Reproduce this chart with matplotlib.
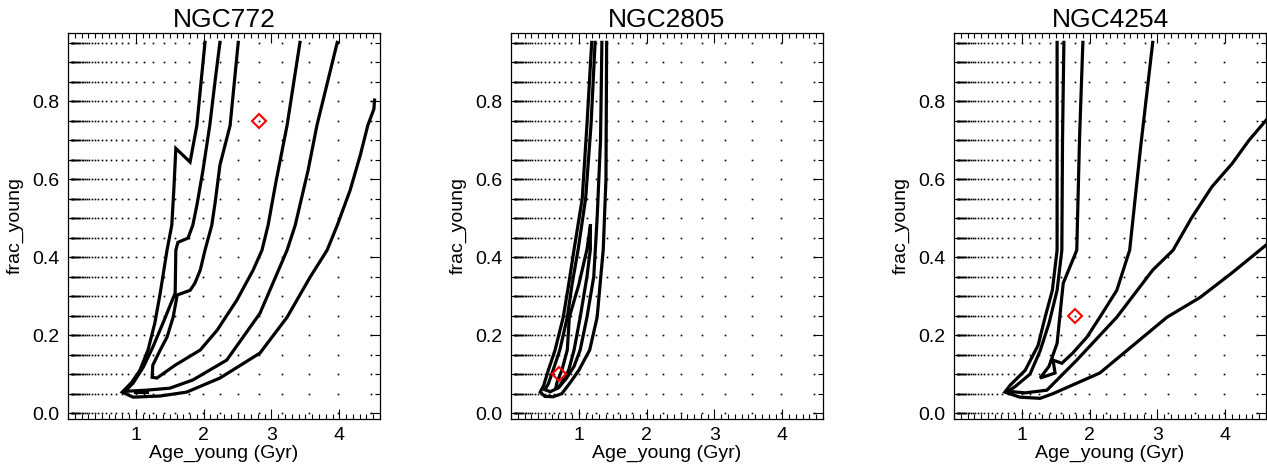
import numpy as np
import matplotlib.pyplot as plt
from matplotlib.ticker import MultipleLocator

plt.rcParams['font.family'] = ['Liberation Sans', 'DejaVu Sans']

# model grid (age in Gyr, log steps of 0.05 dex; young fraction in steps of 0.05)
grid_age = 10 ** np.arange(-1.3, 0.66, 0.05)
grid_frac = np.arange(0.0, 0.951, 0.05)

titles = ['NGC772', 'NGC2805', 'NGC4254']

# best fit (age_young, frac_young)
best_age = [2.82, 0.71, 1.78]
best_frac = [0.75, 0.10, 0.25]

# NGC772 contours
n772_outer_x = [2.02, 1.96, 1.90, 1.80, 1.59, 1.56, 1.53, 1.46, 1.36, 1.28, 1.18, 1.06, 0.94, 0.80,
                0.96, 1.36, 1.75, 2.24, 2.83, 3.23, 3.57, 3.82, 3.97, 4.16, 4.31, 4.42, 4.51, 4.52]
n772_outer_y = [0.951, 0.846, 0.738, 0.644, 0.679, 0.572, 0.482, 0.418, 0.308, 0.231, 0.162, 0.110, 0.079, 0.054,
                0.041, 0.044, 0.054, 0.090, 0.154, 0.246, 0.349, 0.418, 0.482, 0.572, 0.662, 0.738, 0.780, 0.803]
n772_mid_x = [2.24, 2.17, 2.09, 1.99, 1.90, 1.84, 1.77, 1.62, 1.59, 1.58, 1.40, 1.25, 1.11, 0.96, 0.84,
              1.16, 1.50, 1.84, 2.34, 2.83, 3.23, 3.35, 3.54, 3.67, 3.97]
n772_mid_y = [0.951, 0.854, 0.738, 0.623, 0.533, 0.482, 0.449, 0.438, 0.418, 0.308, 0.231, 0.169, 0.118, 0.077, 0.056,
              0.059, 0.064, 0.085, 0.136, 0.256, 0.418, 0.482, 0.623, 0.738, 0.951]
n772_in_x = [2.51, 2.39, 2.24, 2.17, 2.12, 2.02, 1.95, 1.87, 1.80, 1.61, 1.55, 1.46, 1.36, 1.25, 1.24, 1.31,
             1.58, 1.95, 2.20, 2.49, 2.73, 2.86, 2.95, 3.07, 3.23, 3.42]
n772_in_y = [0.951, 0.738, 0.636, 0.541, 0.482, 0.418, 0.367, 0.333, 0.315, 0.303, 0.246, 0.195, 0.162, 0.123, 0.092, 0.090,
             0.123, 0.162, 0.213, 0.290, 0.367, 0.418, 0.482, 0.597, 0.738, 0.951]
n772_blob_x = [0.99, 1.16]
n772_blob_y = [0.053, 0.053]

# NGC2805 contours
n2805_outer_x = [1.19, 1.12, 1.05, 0.93, 0.85, 0.77, 0.65, 0.55, 0.48, 0.43,
                 0.50, 0.62, 0.75, 0.88, 1.00, 1.16, 1.27, 1.36, 1.40, 1.41]
n2805_outer_y = [0.951, 0.74, 0.55, 0.42, 0.33, 0.246, 0.162, 0.11, 0.07, 0.054,
                 0.043, 0.042, 0.05, 0.08, 0.11, 0.162, 0.246, 0.42, 0.60, 0.951]
n2805_mid_x = [1.24, 1.18, 1.10, 0.99, 0.90, 0.83, 0.72, 0.62, 0.55, 0.50,
               0.58, 0.70, 0.82, 0.93, 1.02, 1.12, 1.22, 1.27, 1.32, 1.34]
n2805_mid_y = [0.951, 0.74, 0.55, 0.42, 0.33, 0.246, 0.162, 0.11, 0.075, 0.06,
               0.055, 0.065, 0.09, 0.12, 0.162, 0.246, 0.35, 0.50, 0.70, 0.951]
n2805_in_x = [1.17, 1.12, 1.00, 0.86, 0.83, 0.75, 0.68, 0.66, 0.72, 0.85, 0.93, 1.02, 1.12, 1.17, 1.17]
n2805_in_y = [0.48, 0.42, 0.33, 0.246, 0.162, 0.11, 0.08, 0.065, 0.07, 0.11, 0.162, 0.246, 0.35, 0.42, 0.48]

# NGC4254 contours
n4254_outer_x = [1.52, 1.52, 1.52, 1.45, 1.34, 1.24, 1.05, 0.83, 0.75,
                 0.97, 1.27, 1.46, 2.15, 3.14, 3.63, 4.10, 4.60]
n4254_outer_y = [0.951, 0.67, 0.418, 0.315, 0.244, 0.174, 0.110, 0.072, 0.054,
                 0.041, 0.038, 0.050, 0.103, 0.246, 0.297, 0.36, 0.431]
n4254_mid_x = [1.62, 1.60, 1.59, 1.52, 1.40, 1.27, 1.12, 0.90, 0.80,
               1.05, 1.37, 1.81, 2.40, 2.93, 3.23, 3.50, 3.80, 4.10, 4.35, 4.60]
n4254_mid_y = [0.951, 0.70, 0.418, 0.315, 0.230, 0.160, 0.100, 0.068, 0.056,
               0.052, 0.059, 0.136, 0.246, 0.367, 0.418, 0.50, 0.58, 0.64, 0.70, 0.751]
n4254_in_x = [1.90, 1.85, 1.81, 1.61, 1.52, 1.40, 1.27, 1.49, 1.46, 1.59,
              1.75, 1.96, 2.15, 2.40, 2.59, 2.75, 2.93]
n4254_in_y = [0.951, 0.70, 0.418, 0.333, 0.179, 0.120, 0.090, 0.103, 0.136, 0.128,
              0.154, 0.195, 0.246, 0.315, 0.418, 0.68, 0.951]

contours = [
    [(n772_outer_x, n772_outer_y), (n772_mid_x, n772_mid_y), (n772_in_x, n772_in_y), (n772_blob_x, n772_blob_y)],
    [(n2805_outer_x, n2805_outer_y), (n2805_mid_x, n2805_mid_y), (n2805_in_x, n2805_in_y)],
    [(n4254_outer_x, n4254_outer_y), (n4254_mid_x, n4254_mid_y), (n4254_in_x, n4254_in_y)],
]

fig = plt.figure(figsize=(12.67, 4.71), dpi=100)
lefts = [68 / 1267, 511 / 1267, 954 / 1267]

for i in range(3):
    ax = fig.add_axes([lefts[i], 52 / 471, 312 / 1267, 386 / 471])

    # grid of models as small dots
    gx, gy = np.meshgrid(grid_age, grid_frac)
    ax.plot(gx.ravel(), gy.ravel(), linestyle='none', marker='s', markersize=1.2,
            markeredgewidth=0, color='k')

    for cx, cy in contours[i]:
        ax.plot(cx, cy, color='k', lw=2.3, solid_joinstyle='miter')

    ax.plot(best_age[i], best_frac[i], linestyle='none', marker='D', markersize=7,
            markerfacecolor='none', markeredgecolor='red', markeredgewidth=1.5)

    ax.set_xlim(0, 4.6)
    ax.set_ylim(-0.015, 0.975)
    ax.xaxis.set_major_locator(MultipleLocator(1))
    ax.xaxis.set_minor_locator(MultipleLocator(0.1))
    ax.yaxis.set_major_locator(MultipleLocator(0.2))
    ax.yaxis.set_minor_locator(MultipleLocator(0.05))
    ax.set_xticks([1, 2, 3, 4])
    ax.set_yticks([0.0, 0.2, 0.4, 0.6, 0.8])
    ax.set_yticklabels(['0.0', '0.2', '0.4', '0.6', '0.8'])
    ax.tick_params(which='both', direction='in', top=True, right=True, labelsize=14, width=0.8)
    ax.tick_params(which='major', length=7, pad=6)
    ax.tick_params(which='minor', length=3.5)
    for s in ax.spines.values():
        s.set_linewidth(0.9)

    ax.set_title(titles[i], fontsize=19, pad=4)
    ax.set_xlabel('Age_young (Gyr)', fontsize=14, labelpad=0)
    ax.set_ylabel('frac_young', fontsize=14, labelpad=6)

fig.savefig('out.png', dpi=100)
